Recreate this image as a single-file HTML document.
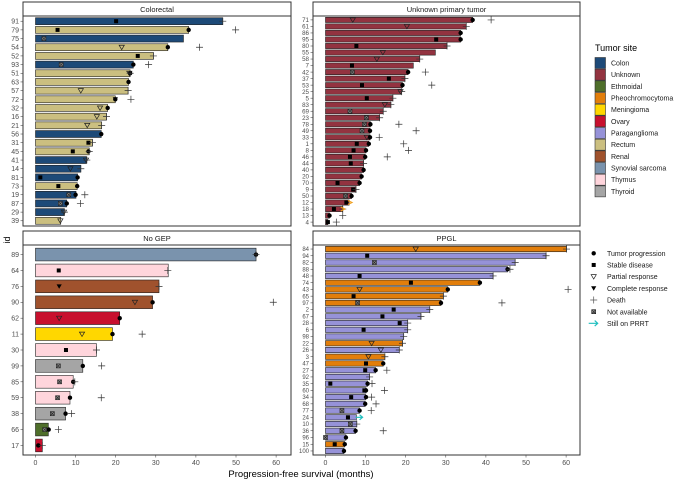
<!DOCTYPE html>
<html><head><meta charset="utf-8">
<style>
html,body{margin:0;padding:0;background:#fff;}
svg{display:block;font-family:"Liberation Sans",Arial,sans-serif;}
</style></head>
<body>
<svg id="chart" width="677" height="480" viewBox="0 0 677 480" xmlns="http://www.w3.org/2000/svg">
<text x="10" y="240" font-size="9" text-anchor="middle" transform="rotate(-90 10 240)">id</text>
<text x="301" y="477" font-size="9.5" text-anchor="middle">Progression-free survival (months)</text>
</svg>
<script>
// ---------- data ----------
const xTicks=[0,10,20,30,40,50,60];
const siteNames=["Colon","Unknown","Ethmoidal","Pheochromocytoma","Meningioma","Ovary","Paraganglioma","Rectum","Renal","Synovial sarcoma","Thymus","Thyroid"];
const siteColors=["#1d4a78","#933340","#4f6f2b","#e27e0b","#ffd700","#c8102e","#9692d8","#cbbf80","#a0522d","#7a93ad","#ffd5dc","#a5a5a5"];
const eventLabels=["Tumor progression","Stable disease","Partial response","Complete response","Death","Not available","Still on PRRT"];

// Colorectal
const crIds=[91,79,75,54,52,93,51,63,57,72,32,16,21,56,31,45,41,14,81,73,19,87,29,39];
const crSite=["Colon","Rectum","Colon","Rectum","Rectum","Colon","Rectum","Rectum","Rectum","Rectum","Rectum","Rectum","Rectum","Colon","Rectum","Rectum","Colon","Colon","Colon","Rectum","Colon","Colon","Colon","Rectum"];
const crPfs=[46.7,38.2,36.9,33,29.4,24.4,23.6,23.2,23.1,19.9,18,17.7,16.5,16.4,14.2,13.4,12.7,11.3,10.5,10.4,10.1,7.8,7.2,6.3];
const crSD=[[91,20.1],[79,5.5],[52,25.5],[31,13.2],[45,9.3],[81,1.2],[73,5.7]];
const crPR=[[54,21.5],[51,23.4],[57,11.3],[32,16.1],[16,15.3],[21,12.9],[41,12.6],[14,8.7],[29,7.1],[39,6.2]];
const crCR=[[72,19.9]];
const crNA=[[75,2.1],[93,6.4],[19,8.3],[87,6.2]];
const crPD=[[79,38.2],[54,33],[93,24.4],[51,23.6],[63,23.2],[72,19.9],[32,18],[56,16.4],[45,13.2],[81,10.5],[73,10.4],[19,10.0],[87,7.8]];
const crDeath=[[91,46.7],[79,49.9],[54,40.9],[52,29.4],[93,28.2],[51,23.6],[57,23.1],[72,23.8],[16,17.7],[21,16.5],[31,14.2],[45,13.4],[41,12.8],[14,11.3],[19,12.3],[87,11.2],[29,7.2]];

// Unknown primary tumor
const unIds=[71,61,86,95,80,55,58,7,42,37,53,25,5,83,69,23,78,49,33,1,8,46,44,40,20,70,9,50,12,18,13,4];
const unPfs=[36.7,35.1,33.7,33.7,30.3,27.4,23.5,21.9,20.6,19.8,19.2,19,16.8,16.3,14.4,13.5,11.2,11.1,11.1,10.8,10.1,9.9,9.5,9.5,9,8.5,7.6,6.5,5.9,4.3,1,0.6];
const unSD=[[95,27.6],[80,7.7],[7,6.6],[37,15.8],[53,9.1],[5,10.3],[1,7.8],[8,7],[46,6.1],[44,6.3],[70,3],[9,6.9],[12,5.2],[18,2.1],[4,0.6]];
const unPR=[[71,6.8],[61,20.3],[55,14.3],[58,12.8],[25,18.7],[83,14.8],[33,10.3]];
const unNA=[[42,6.7],[69,6.1],[23,10.2],[78,9.7],[49,9.1],[50,5]];
const unPD=[[71,36.7],[86,33.7],[95,33.7],[42,20.6],[53,19.2],[78,11.2],[49,11.1],[33,11.1],[1,10.8],[8,10.1],[46,9.9],[40,9.5],[20,9],[70,8.5],[50,6.5],[13,1]];
const unDeath=[[71,41.3],[61,35.1],[80,30.3],[58,23.5],[42,24.9],[37,19.8],[53,26.5],[25,19],[5,16.8],[83,16.3],[69,14.4],[23,13.5],[78,18.3],[49,22.6],[33,13.4],[1,19.5],[8,20.7],[46,15.4],[44,9.5],[9,7.6],[13,4.3],[4,2.7],[18,4.3]];
const unOrange=[[12,6.1],[18,4.3]];

// No GEP
const ngIds=[89,64,76,90,62,11,30,99,85,59,38,66,17];
const ngSite=["Synovial sarcoma","Thymus","Renal","Renal","Ovary","Meningioma","Thymus","Thyroid","Thymus","Thymus","Thyroid","Ethmoidal","Ovary"];
const ngPfs=[55,33.1,30.8,29.2,21,19.2,15.2,11.8,9.4,8.6,7.5,3.2,1.7];
const ngSD=[[64,5.8],[30,7.6]];
const ngPR=[[90,24.8],[62,5.9],[11,11.6]];
const ngCR=[[76,5.9]];
const ngNA=[[99,5.7],[85,6],[59,5.5],[38,4.2],[66,2.3]];
const ngPD=[[89,55],[90,29.2],[62,21],[11,19.2],[99,11.8],[85,9.4],[59,8.6],[38,7.5],[66,3.3],[17,0.7]];
const ngDeath=[[89,55],[64,33],[76,30.8],[90,59.3],[11,26.6],[30,15.2],[99,16.5],[85,9.8],[59,16.4],[38,9],[66,5.7],[17,1.7]];

// PPGL
const ppIds=[84,94,82,88,48,74,43,65,97,2,67,28,6,98,22,26,3,47,27,92,35,60,34,68,77,24,10,36,96,15,100];
const ppSite=["Pheochromocytoma","Paraganglioma","Paraganglioma","Paraganglioma","Paraganglioma","Pheochromocytoma","Pheochromocytoma","Pheochromocytoma","Pheochromocytoma","Paraganglioma","Paraganglioma","Paraganglioma","Paraganglioma","Paraganglioma","Pheochromocytoma","Paraganglioma","Pheochromocytoma","Pheochromocytoma","Paraganglioma","Paraganglioma","Paraganglioma","Paraganglioma","Paraganglioma","Paraganglioma","Paraganglioma","Paraganglioma","Paraganglioma","Paraganglioma","Paraganglioma","Pheochromocytoma","Paraganglioma"];
const ppPfs=[60.1,55,47.3,45.4,41.8,38.5,30.5,29.4,28.8,26,23.8,20.5,20.5,19.5,19.2,18.4,14.8,14.4,12.5,11,10.5,10.1,10,9.9,8.5,7.7,7.8,7.5,5.1,4.8,4.6];
const ppSD=[[94,10.4],[48,8.5],[74,21.3],[65,7],[2,17],[67,14.2],[28,18.5],[6,9.5],[47,10.1],[27,9.9],[35,1.2],[60,9.7],[34,6.4],[24,5.6],[15,2.3]];
const ppPR=[[84,22.5],[43,8.5],[22,11.5],[26,13.8],[3,10.7]];
const ppNA=[[82,12.2],[97,8],[77,4.1],[10,6.2],[36,4.1],[96,0]];
const ppPD=[[88,45.4],[74,38.5],[43,30.5],[97,28.8],[47,14.4],[27,12.5],[35,10.5],[60,10.1],[34,10.1],[68,9.9],[77,8.5],[36,7.5],[96,5.1],[15,4.8],[100,4.6]];
const ppDeath=[[84,60.1],[94,55],[82,47.3],[88,46],[48,41.8],[43,60.5],[65,29.4],[97,44],[2,26],[67,23.8],[28,20.5],[6,20.5],[98,19.5],[22,19.2],[26,18.4],[3,14.8],[27,15.3],[92,11],[35,11.6],[60,14.7],[34,11.5],[68,12.6],[77,11.4],[10,7.8],[36,14.4]];
const ppPRRT=[[24,8.5]];

// ---------- drawing ----------
const NS="http://www.w3.org/2000/svg";
const svg=document.getElementById("chart");
function mk(tag,attrs,parent){const e=document.createElementNS(NS,tag);for(const k in attrs)e.setAttribute(k,attrs[k]);(parent||svg).appendChild(e);return e;}
function colorOf(site){return siteColors[siteNames.indexOf(site)];}

function drawPanel(p){
  const g=mk("g",{});
  
  
  const L=p.x,T=p.y,W=p.w,H=p.h;
  const xs=v=>L+12.5+v*4.01;
  const n=p.ids.length, step=H/(n-1+1.2);
  const ys=i=>T+(0.6+i)*step;
  const yOf=id=>ys(p.ids.indexOf(id));
  // strip
  const st=mk("rect",{x:L,y:T-14,width:W,height:14,fill:"#fff",stroke:"#333","stroke-width":1},g);
  
  
  const sl=mk("text",{x:L+W/2,y:T-4,"font-size":7.5,"text-anchor":"middle",fill:"#1a1a1a"},g);
  sl.textContent=p.title;
  
  
  // bars
  const bh=step*0.8;
  p.ids.forEach((id,i)=>{
    const b=mk("rect",{x:xs(0),y:ys(i)-bh/2,width:Math.max(0.5,xs(p.pfs[i])-xs(0)),height:bh,fill:colorOf(p.site[i]),stroke:"#222","stroke-width":0.6},g);
    
    
    const tl=mk("text",{x:L-4,y:ys(i)+p.fs*0.35,"font-size":p.fs,"text-anchor":"end",fill:"#4d4d4d"},g);
    tl.textContent=id;
    
    
    mk("line",{x1:L-2.5,x2:L,y1:ys(i),y2:ys(i),stroke:"#333","stroke-width":0.5},g);
  });
  // markers
  (p.sd||[]).forEach(([id,v])=>{const m=mk("rect",{x:xs(v)-2,y:yOf(id)-2,width:4,height:4,fill:"#000"},g);
    });
  (p.na||[]).forEach(([id,v])=>{const x=xs(v),y=yOf(id);
    const m=mk("rect",{x:x-2,y:y-2,width:4,height:4,fill:"#888",stroke:"#222","stroke-width":0.6},g);
    
    mk("path",{d:`M${x-2} ${y-2}L${x+2} ${y+2}M${x+2} ${y-2}L${x-2} ${y+2}`,stroke:"#222","stroke-width":0.6},g);});
  (p.pr||[]).forEach(([id,v])=>{const x=xs(v),y=yOf(id);
    const m=mk("path",{d:`M${x-2.6} ${y-2}L${x+2.6} ${y-2}L${x} ${y+2.4}Z`,fill:"none",stroke:"#222","stroke-width":0.7},g);
    });
  (p.cr||[]).forEach(([id,v])=>{const x=xs(v),y=yOf(id);
    const m=mk("path",{d:`M${x-2.6} ${y-2}L${x+2.6} ${y-2}L${x} ${y+2.4}Z`,fill:"#000"},g);
    });
  (p.pd||[]).forEach(([id,v])=>{const m=mk("circle",{cx:xs(v),cy:yOf(id),r:2.2,fill:"#000"},g);
    });
  (p.death||[]).forEach(([id,v])=>{const x=xs(v),y=yOf(id);
    const m=mk("path",{d:`M${x-3.5} ${y}L${x+3.5} ${y}M${x} ${y-3.5}L${x} ${y+3.5}`,stroke:"#333","stroke-width":0.7},g);
    });
  (p.orange||[]).forEach(([id,v])=>{const x=xs(v),y=yOf(id);
    const m=mk("path",{d:`M${x-2} ${y-2}L${x+2} ${y}L${x-2} ${y+2}`,fill:"none",stroke:"#f0a020","stroke-width":1.2},g);
    });
  (p.prrt||[]).forEach(([id,v])=>{const x=xs(v),y=yOf(id);
    const m=mk("path",{d:`M${x-4} ${y}L${x+3} ${y}M${x} ${y-2.5}L${x+3} ${y}L${x} ${y+2.5}`,fill:"none",stroke:"#1fbfbf","stroke-width":1.2},g);
    });
  // frame
  mk("rect",{x:L,y:T,width:W,height:H,fill:"none",stroke:"#333","stroke-width":1},g);
  if(p.xaxis){
    xTicks.forEach(t=>{
      mk("line",{x1:xs(t),x2:xs(t),y1:T+H,y2:T+H+2.5,stroke:"#333","stroke-width":0.5},g);
      const tx=mk("text",{x:xs(t),y:T+H+10,"font-size":7,"text-anchor":"middle",fill:"#4d4d4d"},g);
      tx.textContent=t;
      
      
    });
  }
}

drawPanel({name:"colorectal",title:"Colorectal",x:23,y:16,w:268,h:210,fs:7,ids:crIds,site:crSite,pfs:crPfs,sd:crSD,pr:crPR,cr:crCR,na:crNA,pd:crPD,death:crDeath});
drawPanel({name:"unknown-primary",title:"Unknown primary tumor",x:313,y:16,w:267,h:210,fs:6.2,ids:unIds,site:unIds.map(()=>"Unknown"),pfs:unPfs,sd:unSD,pr:unPR,na:unNA,pd:unPD,death:unDeath,orange:unOrange});
drawPanel({name:"no-gep",title:"No GEP",x:23,y:245,w:268,h:210,fs:7,ids:ngIds,site:ngSite,pfs:ngPfs,sd:ngSD,pr:ngPR,cr:ngCR,na:ngNA,pd:ngPD,death:ngDeath,xaxis:true});
drawPanel({name:"ppgl",title:"PPGL",x:313,y:245,w:267,h:210,fs:6,ids:ppIds,site:ppSite,pfs:ppPfs,sd:ppSD,pr:ppPR,na:ppNA,pd:ppPD,death:ppDeath,prrt:ppPRRT,xaxis:true});

// legend: tumor site
const lt=mk("text",{x:595,y:51,"font-size":9,fill:"#000"});
lt.textContent="Tumor site";


siteNames.forEach((s,i)=>{
  const y=57.5+i*11.67;
  const k=mk("rect",{x:595,y:y,width:10.5,height:11,fill:siteColors[i],stroke:"#333","stroke-width":0.6});
  
  
  const t=mk("text",{x:611,y:y+8,"font-size":7,fill:"#1a1a1a"});
  t.textContent=s;
  
  
});
// legend: events
eventLabels.forEach((s,i)=>{
  const y=253.3+i*11.67, x=593.7;
  let m;
  if(i===0)m=mk("circle",{cx:x,cy:y,r:2.2,fill:"#000"});
  else if(i===1)m=mk("rect",{x:x-2,y:y-2,width:4,height:4,fill:"#000"});
  else if(i===2)m=mk("path",{d:`M${x-2.6} ${y-2}L${x+2.6} ${y-2}L${x} ${y+2.4}Z`,fill:"none",stroke:"#222","stroke-width":0.7});
  else if(i===3)m=mk("path",{d:`M${x-2.6} ${y-2}L${x+2.6} ${y-2}L${x} ${y+2.4}Z`,fill:"#000"});
  else if(i===4)m=mk("path",{d:`M${x-3.5} ${y}L${x+3.5} ${y}M${x} ${y-3.5}L${x} ${y+3.5}`,stroke:"#555","stroke-width":0.7});
  else if(i===5)m=mk("path",{d:`M${x-2} ${y-2}h4v4h-4zM${x-2} ${y-2}L${x+2} ${y+2}M${x+2} ${y-2}L${x-2} ${y+2}`,fill:"#888",stroke:"#222","stroke-width":0.6});
  else m=mk("path",{d:`M${x-5} ${y}L${x+4} ${y}M${x+1} ${y-2.8}L${x+4} ${y}L${x+1} ${y+2.8}`,fill:"none",stroke:"#1fbfbf","stroke-width":1.2});
  
  
  const t=mk("text",{x:607,y:y+2.6,"font-size":7,fill:"#1a1a1a"});
  t.textContent=s;
  
  
});
</script>
</body></html>
